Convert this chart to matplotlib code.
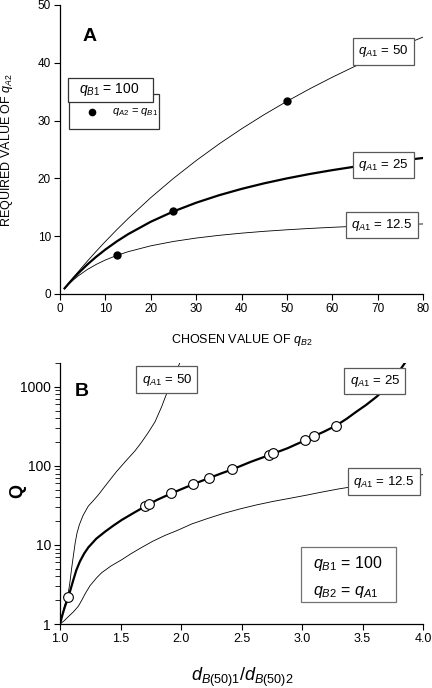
import matplotlib
matplotlib.use("Agg")
import matplotlib.pyplot as plt
from matplotlib.patches import Rectangle
from matplotlib.ticker import LogLocator, NullFormatter, FixedLocator

plt.rcParams['font.family'] = ['Liberation Sans', 'DejaVu Sans']
plt.rcParams['mathtext.fontset'] = 'custom'
plt.rcParams['mathtext.rm'] = 'Liberation Sans'
plt.rcParams['mathtext.it'] = 'Liberation Sans:italic'
plt.rcParams['mathtext.bf'] = 'Liberation Sans:bold'

# ---- panel A: required q_A2 vs chosen q_B2 (q_B1 = 100)
qb2 = [1, 2, 3, 4, 6, 8, 10, 12.5, 15, 20, 25, 30, 35, 40, 45, 50, 55, 60, 65, 70, 75, 80]
qa2_50 = [0.990, 1.961, 2.913, 3.846, 5.660, 7.407, 9.091, 11.111, 13.043, 16.667, 20.0,
          23.077, 25.926, 28.571, 31.034, 33.333, 35.484, 37.5, 39.394, 41.176, 42.857, 44.444]
qa2_25 = [0.971, 1.887, 2.752, 3.571, 5.085, 6.452, 7.692, 9.091, 10.345, 12.5, 14.286,
          15.789, 17.073, 18.182, 19.149, 20.0, 20.755, 21.429, 22.034, 22.581, 23.077, 23.529]
qa2_12 = [0.935, 1.754, 2.479, 3.125, 4.225, 5.128, 5.882, 6.667, 7.317, 8.333, 9.091,
          9.677, 10.145, 10.526, 10.843, 11.111, 11.340, 11.538, 11.712, 11.864, 12.0, 12.121]
dots_x = [12.5, 25, 50]
dots_y = [6.667, 14.286, 33.333]

# ---- panel B: Q vs d_B(50)1/d_B(50)2
d50 = [1.0, 1.02, 1.04, 1.063, 1.08, 1.095, 1.11, 1.125, 1.14, 1.16, 1.19, 1.234, 1.28,
       1.317, 1.39, 1.468, 1.55, 1.62, 1.675, 1.73, 1.785, 1.84, 1.895, 1.94, 1.99]
Q50 = [1.0, 1.35, 1.75, 2.2, 3.2, 4.9, 7.2, 10.5, 14.0, 18.0, 23.5, 31, 37,
       43, 60, 85, 118, 155, 200, 265, 360, 560, 930, 1350, 2000]

d25 = [1.0, 1.02, 1.04, 1.06, 1.08, 1.11, 1.135, 1.165, 1.20, 1.234, 1.30, 1.372, 1.44,
       1.51, 1.62, 1.70, 1.80, 1.915, 2.0, 2.10, 2.23, 2.33, 2.43, 2.58, 2.73, 2.88, 3.03,
       3.10, 3.18, 3.28, 3.37, 3.45, 3.53, 3.617, 3.70, 3.75, 3.80, 3.85]
Q25 = [1.0, 1.3, 1.65, 2.0, 2.5, 3.6, 4.8, 6.2, 7.8, 9.3, 12.0, 14.7, 17.5,
       20.7, 26, 30.5, 37, 44.5, 50.5, 58.5, 70, 80, 91, 113, 137, 167, 212,
       238, 270, 322, 395, 485, 590, 750, 990, 1200, 1550, 2000]

d12 = [1.0, 1.035, 1.069, 1.11, 1.152, 1.18, 1.207, 1.248, 1.30, 1.344, 1.42, 1.51, 1.59,
       1.675, 1.77, 1.868, 1.98, 2.088, 2.22, 2.35, 2.49, 2.625, 2.76, 2.90, 3.04, 3.176,
       3.30, 3.397, 3.55, 3.70, 3.85, 4.0]
Q12 = [1.0, 1.1, 1.24, 1.42, 1.68, 2.0, 2.4, 3.05, 3.8, 4.45, 5.4, 6.5, 7.8,
       9.3, 11.2, 13.2, 15.5, 18.4, 21.6, 25.0, 28.6, 32.1, 35.5, 38.9, 42.7, 47.0,
       51.0, 53.9, 59.2, 64.9, 71.1, 77.6]

circ_x = [1.069, 1.70, 1.738, 1.915, 2.10, 2.23, 2.424, 2.73, 2.757, 3.025, 3.10, 3.28]
circ_y = [2.2, 31, 32.7, 45, 59, 70.5, 91, 138, 145, 213, 242, 324]

W, H = 432, 688
fig = plt.figure(figsize=(W / 100, H / 100), dpi=100)

def px_axes(l, t, r, b):
    return fig.add_axes([l / W, 1 - b / H, (r - l) / W, (b - t) / H])

box = dict(boxstyle="square,pad=0.4", fc="white", ec="0.35", lw=0.9)

# ---------------- A
axA = px_axes(60, 5, 423, 294)
axA.plot(qb2, qa2_50, color="k", lw=0.6)
axA.plot(qb2, qa2_25, color="k", lw=1.6)
axA.plot(qb2, qa2_12, color="k", lw=0.6)
axA.plot(dots_x, dots_y, "o", color="k", ms=5, zorder=5)
axA.set_xlim(0, 80)
axA.set_ylim(0, 50)
axA.set_xticks(range(0, 81, 10))
axA.set_yticks(range(0, 51, 10))
for s in ["top", "right"]:
    axA.spines[s].set_visible(False)
for s in ["left", "bottom"]:
    axA.spines[s].set_linewidth(0.9)
axA.tick_params(labelsize=8.5, length=4.5, width=0.8, pad=2)
axA.text(0.0826, 0.89, "A", transform=axA.transAxes, fontsize=14, fontweight="bold",
         ha="center", va="center")

for (xx, yy, s) in [(71.2, 42.0, "50"), (71.3, 22.3, "25"), (71.0, 11.9, "12.5")]:
    axA.text(xx, yy, r"$q_{A1}$ = " + s, fontsize=9.5, ha="center", va="center",
             bbox=box, zorder=6)

# legend boxes in A
axA.add_patch(Rectangle((0.0256, 0.5699), 0.2475, 0.1221, transform=axA.transAxes,
                        fc="white", ec="0.2", lw=0.9, zorder=7, clip_on=False))
axA.add_patch(Rectangle((0.0229, 0.6654), 0.2325, 0.0830, transform=axA.transAxes,
                        fc="white", ec="0.2", lw=0.9, zorder=8, clip_on=False))
axA.text(0.1364, 0.706, r"$q_{B1}$ = 100", transform=axA.transAxes, fontsize=10,
         ha="center", va="center", zorder=9)
axA.plot([0.0873], [0.6298], "o", color="k", ms=4.5, transform=axA.transAxes,
         zorder=9, clip_on=False)
axA.text(0.1424, 0.6298, r"$q_{A2}$ = $q_{B1}$", transform=axA.transAxes, fontsize=8,
         ha="left", va="center", zorder=9)

fig.text(7 / W, 1 - 150 / H, r"REQUIRED VALUE OF $q_{A2}$", rotation=90,
         fontsize=9, ha="center", va="center")
fig.text(241.5 / W, 1 - 340 / H, r"CHOSEN VALUE OF $q_{B2}$", fontsize=9,
         ha="center", va="center")

# ---------------- B
axB = px_axes(60, 363, 423, 624)
axB.plot(d50, Q50, color="k", lw=0.6)
axB.plot(d25, Q25, color="k", lw=1.6)
axB.plot(d12, Q12, color="k", lw=0.6)
axB.plot(circ_x, circ_y, "o", mfc="white", mec="k", mew=0.8, ms=7, zorder=5)
axB.set_yscale("log")
axB.set_xlim(1.0, 4.0)
axB.set_ylim(1, 2000)
axB.set_xticks([1.0, 1.5, 2.0, 2.5, 3.0, 3.5, 4.0])
axB.set_xticklabels(["1.0", "1.5", "2.0", "2.5", "3.0", "3.5", "4.0"])
axB.yaxis.set_major_locator(FixedLocator([1, 10, 100, 1000]))
axB.set_yticklabels(["1", "10", "100", "1000"])
axB.yaxis.set_minor_locator(LogLocator(base=10, subs=range(2, 10)))
axB.yaxis.set_minor_formatter(NullFormatter())
for s in ["top", "right"]:
    axB.spines[s].set_visible(False)
for s in ["left", "bottom"]:
    axB.spines[s].set_linewidth(0.9)
axB.tick_params(axis="x", labelsize=9, length=4.5, width=0.8, pad=2)
axB.tick_params(axis="y", which="major", labelsize=10, length=4.5, width=0.8, pad=2)
axB.tick_params(axis="y", which="minor", length=3.5, width=0.6)
axB.text(0.0598, 0.89, "B", transform=axB.transAxes, fontsize=14, fontweight="bold",
         ha="center", va="center")

for (xx, yy, s) in [(1.884, 1227, "50"), (3.603, 1191, "25"), (3.678, 63.3, "12.5")]:
    axB.text(xx, yy, r"$q_{A1}$ = " + s, fontsize=9.5, ha="center", va="center",
             bbox=box, zorder=6)

axB.add_patch(Rectangle((0.664, 0.0831), 0.2616, 0.2131, transform=axB.transAxes,
                        fc="white", ec="0.45", lw=0.9, zorder=7))
axB.text(0.698, 0.2299, r"$q_{B1}$ = 100", transform=axB.transAxes, fontsize=11.5,
         ha="left", va="center", zorder=8)
axB.text(0.698, 0.1238, r"$q_{B2}$ = $q_{A1}$", transform=axB.transAxes, fontsize=11.5,
         ha="left", va="center", zorder=8)

fig.text(18 / W, 1 - 491.5 / H, "Q", rotation=90, fontsize=13, fontweight="bold",
         ha="center", va="center")
fig.text(242 / W, 1 - 677 / H, r"$d_{B(50)1}/d_{B(50)2}$", fontsize=13,
         ha="center", va="center")

fig.savefig("out.png", dpi=100)
